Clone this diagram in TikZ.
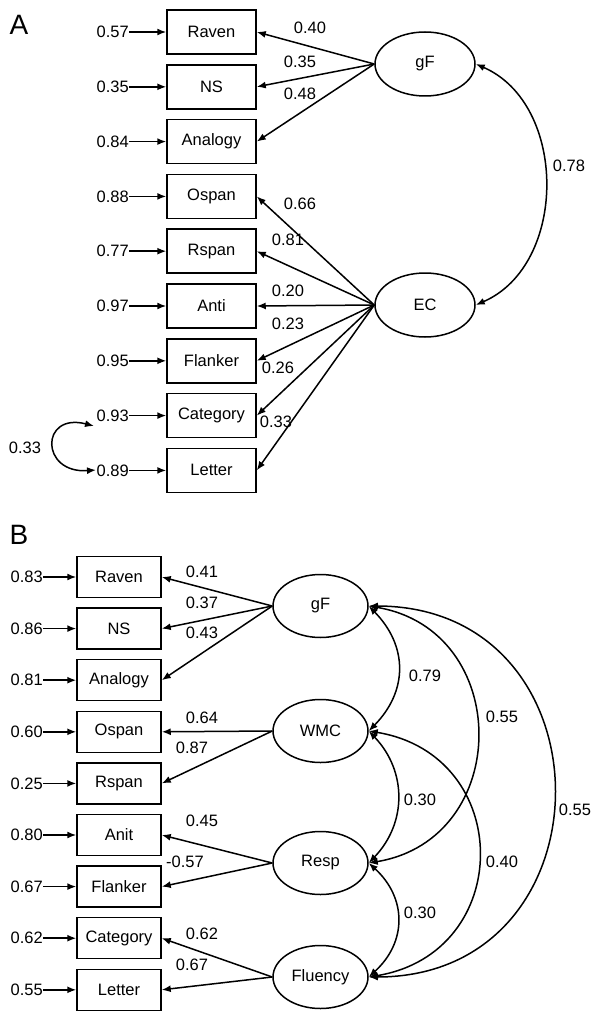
\documentclass[tikz,border=0pt]{standalone}
\usepackage{fontspec}
\setmainfont{Liberation Sans}
\usetikzlibrary{arrows.meta,shapes.geometric}
\tikzset{
  fnt/.style={font=\fontsize{16.5}{18}\selectfont},
  boxa/.style={draw, line width=1.5pt, minimum width=89pt, minimum height=44pt, inner sep=0pt, fnt},
  boxb/.style={draw, line width=1.5pt, minimum width=84pt, minimum height=41pt, inner sep=0pt, fnt},
  lata/.style={draw, ellipse, line width=1.5pt, minimum width=100pt, minimum height=64pt, inner sep=0pt, fnt},
  latb/.style={draw, ellipse, line width=1.5pt, minimum width=95pt, minimum height=63pt, inner sep=0pt, fnt},
  lbl/.style={inner sep=0pt, fnt},
  arr/.style={-{Latex[length=9pt,width=7pt]}, line width=1.5pt},
  corr/.style={{Latex[length=9pt,width=7pt]}-{Latex[length=9pt,width=7pt]}, line width=1.5pt},
  panel/.style={inner sep=0pt, font=\fontsize{28}{30}\selectfont}
}
\begin{document}
\begin{tikzpicture}[x=1pt,y=-1pt]
\useasboundingbox (0,0) rectangle (594,1011);
% ---------------- Panel A ----------------
\node[panel] (PA) at (19,25) {A};
\foreach \n/\t/\e/\i in {ra/Raven/0.57/0, ns/NS/0.35/1, an/Analogy/0.84/2, os/Ospan/0.88/3, rs/Rspan/0.77/4, at/Anti/0.97/5, fl/Flanker/0.95/6, ca/Category/0.93/7, le/Letter/0.89/8}{
  \node[boxa] (A\n) at (211.5,{32+54.8*\i}) {\t};
  \node[lbl, anchor=east] (Ae\n) at (129,{32+54.8*\i}) {\e};
  \draw[arr] (Ae\n.east) -- (A\n.west);
}
\node[lata] (AgF) at (425,64) {gF};
\node[lata] (AEC) at (425,305) {EC};
\foreach \n in {ra,ns,an}{ \draw[arr] (AgF.west) -- (A\n.east); }
\foreach \n in {os,rs,at,fl,ca,le}{ \draw[arr] (AEC.west) -- (A\n.east); }
\node[lbl] (l1) at (310,28) {0.40};
\node[lbl] (l2) at (300,62) {0.35};
\node[lbl] (l3) at (300,94) {0.48};
\node[lbl] (l4) at (300,204) {0.66};
\node[lbl] (l5) at (288,240) {0.81};
\node[lbl] (l6) at (288,291) {0.20};
\node[lbl] (l7) at (288,324) {0.23};
\node[lbl] (l8) at (278,368) {0.26};
\node[lbl] (l9) at (276,422) {0.33};
\draw[corr] (AgF.east) .. controls (568,104) and (568,265) .. (AEC.east);
\node[lbl] (l10) at (569,166) {0.78};
\coordinate (c93) at (94,426);
\coordinate (c89) at (96,470);
\draw[corr] (c93) .. controls (40,412) and (40,474) .. (c89);
\node[lbl] (l11) at (25,448) {0.33};
% ---------------- Panel B ----------------
\node[panel] (PB) at (19,535) {B};
\foreach \n/\t/\e/\i in {ra/Raven/0.83/0, ns/NS/0.86/1, an/Analogy/0.81/2, os/Ospan/0.60/3, rs/Rspan/0.25/4, at/Anit/0.80/5, fl/Flanker/0.67/6, ca/Category/0.62/7, le/Letter/0.55/8}{
  \node[boxb] (B\n) at (119,{577+51.6*\i}) {\t};
  \node[lbl, anchor=east] (Be\n) at (43,{577+51.6*\i}) {\e};
  \draw[arr] (Be\n.east) -- (B\n.west);
}
\node[latb] (BgF) at (320.5,606) {gF};
\node[latb] (BWM) at (320.5,731) {WMC};
\node[latb] (BRe) at (320.5,863) {Resp};
\node[latb] (BFl) at (320.5,977) {Fluency};
\foreach \n in {ra,ns,an}{ \draw[arr] (BgF.west) -- (B\n.east); }
\foreach \n in {os,rs}{ \draw[arr] (BWM.west) -- (B\n.east); }
\foreach \n in {at,fl}{ \draw[arr] (BRe.west) -- (B\n.east); }
\foreach \n in {ca,le}{ \draw[arr] (BFl.west) -- (B\n.east); }
\node[lbl] (m1) at (202,572) {0.41};
\node[lbl] (m2) at (202,603) {0.37};
\node[lbl] (m3) at (202,633) {0.43};
\node[lbl] (m4) at (202,718) {0.64};
\node[lbl] (m5) at (192,748) {0.87};
\node[lbl] (m6) at (202,821) {0.45};
\node[lbl] (m7) at (185,862) {-0.57};
\node[lbl] (m8) at (202,934) {0.62};
\node[lbl] (m9) at (192,965) {0.67};
% correlations
\draw[corr] (BgF.east) .. controls (408,646) and (408,691) .. (BWM.east);
\draw[corr] (BgF.east) .. controls (513,630) and (513,839) .. (BRe.east);
\draw[corr] (BgF.east) .. controls (615,606) and (615,977) .. (BFl.east);
\draw[corr] (BWM.east) .. controls (407,771) and (407,823) .. (BRe.east);
\draw[corr] (BWM.east) .. controls (515,755) and (515,953) .. (BFl.east);
\draw[corr] (BRe.east) .. controls (407,898) and (407,942) .. (BFl.east);
\node[lbl] (m10) at (425,676) {0.79};
\node[lbl] (m11) at (502,717) {0.55};
\node[lbl] (m12) at (420,800) {0.30};
\node[lbl] (m13) at (575,810) {0.55};
\node[lbl] (m14) at (502,862) {0.40};
\node[lbl] (m15) at (420,913) {0.30};
\end{tikzpicture}
\end{document}
